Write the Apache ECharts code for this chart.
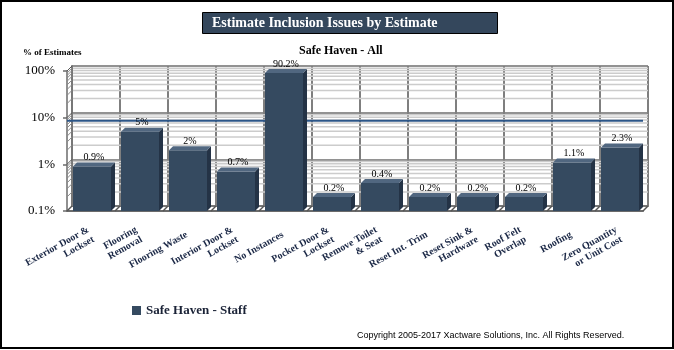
<!DOCTYPE html>
<html>
<head>
<meta charset="utf-8">
<script src="https://cdn.jsdelivr.net/npm/echarts@6/dist/echarts.min.js"></script>
<style>
  html, body { margin: 0; padding: 0; background: #fff; }
  #chart { width: 674px; height: 350px; }
</style>
</head>
<body>
<div id="chart"></div>
<script>
// Share of estimates per inclusion issue (log scale, percent)
const categories = [
  'Exterior Door &\nLockset', 'Flooring\nRemoval', 'Flooring Waste',
  'Interior Door &\nLockset', 'No Instances', 'Pocket Door &\nLockset',
  'Remove Toilet\n& Seat', 'Reset Int. Trim', 'Reset Sink &\nHardware',
  'Roof Felt\nOverlap', 'Roofing', 'Zero Quantity\nor Unit Cost'
];
const values = [0.9, 5, 2, 0.7, 90.2, 0.2, 0.4, 0.2, 0.2, 0.2, 1.1, 2.3];
const seriesName = 'Safe Haven - Staff';
const averageValue = 8.6;

// Axis ticks
const majorGridValues = [0.1, 1, 10, 100];
const yTickLabels = ['0.1%', '1%', '10%', '100%'];
const minorGridValues = [
  0.2, 0.3, 0.4, 0.5, 0.6, 0.7, 0.8, 0.9,
  2, 3, 4, 5, 6, 7, 8, 9,
  20, 30, 40, 50, 60, 70, 80, 90
];

const FRONT = '#354a60';
const SIDE = '#243346';
const TOP = '#516780';
const DEPTH = 5;
const SERIF = '"Liberation Serif", "Times New Roman", serif';

const chart = echarts.init(document.getElementById('chart'));

function yLabel(v) {
  const i = majorGridValues.findIndex(m => Math.abs(Math.log10(m) - Math.log10(v)) < 1e-6);
  return i >= 0 ? yTickLabels[i] : '';
}

chart.setOption({
  animation: false,
  title: [
    {
      text: 'Estimate Inclusion Issues by Estimate',
      left: 202, top: 12,
      padding: [3, 60, 3, 10],
      backgroundColor: '#34475c',
      borderColor: '#000', borderWidth: 1,
      textStyle: { color: '#fff', fontFamily: SERIF, fontWeight: 'bold', fontSize: 14, lineHeight: 16 }
    },
    {
      text: 'Safe Haven - All',
      left: 299, top: 45, padding: 0,
      textStyle: { color: '#000', fontFamily: SERIF, fontWeight: 'bold', fontSize: 12 }
    },
    {
      text: '% of Estimates',
      left: 23, top: 48, padding: 0,
      textStyle: { color: '#000', fontFamily: SERIF, fontWeight: 'bold', fontSize: 9 }
    },
    {
      text: 'Copyright 2005-2017 Xactware Solutions, Inc. All Rights Reserved.',
      left: 357, top: 331, padding: 0,
      textStyle: { color: '#000', fontFamily: '"Liberation Sans", Arial, sans-serif', fontWeight: 'normal', fontSize: 9 }
    }
  ],
  legend: {
    data: [{ name: seriesName, icon: 'rect', itemStyle: { color: FRONT } }],
    left: 127, top: 299,
    itemWidth: 9, itemHeight: 9,
    textStyle: { color: '#1a2236', fontFamily: SERIF, fontWeight: 'bold', fontSize: 13 }
  },
  graphic: [{
    type: 'rect', z: 100, silent: true,
    shape: { x: 1, y: 1, width: 672, height: 347 },
    style: { fill: 'none', stroke: '#000', lineWidth: 2 }
  }],
  grid: [
    { left: 67, top: 71, width: 576, height: 140 },                 // front plane
    { left: 67 + DEPTH, top: 71 - DEPTH, width: 576, height: 140 }  // back wall
  ],
  xAxis: [
    {
      type: 'category', gridIndex: 0, data: categories,
      axisLine: { lineStyle: { color: '#6b6b6b', width: 2 } },
      axisTick: { alignWithLabel: true, length: 8, lineStyle: { color: '#8a8a8a', width: 2 } },
      axisLabel: {
        interval: 0, rotate: 29, margin: 23,
        color: '#1b2846', fontFamily: SERIF, fontWeight: 'bold', fontSize: 10, lineHeight: 11
      },
      splitLine: { show: false }
    },
    {
      type: 'category', gridIndex: 1, data: categories,
      axisLine: { lineStyle: { color: '#777', width: 2 } },
      axisTick: { show: false }, axisLabel: { show: false },
      splitLine: { show: true, interval: 0, lineStyle: { color: '#7f7f7f', width: 2 } }
    }
  ],
  yAxis: [
    {
      type: 'log', logBase: 10, gridIndex: 0, min: 0.1, max: 100,
      axisLine: { show: true, lineStyle: { color: '#6b6b6b', width: 1.5 } },
      axisTick: { show: true, length: 4, lineStyle: { color: '#6b6b6b', width: 1.5 } },
      axisLabel: { margin: 12, formatter: yLabel, color: '#000', fontFamily: SERIF, fontSize: 13, padding: [7, 0, 0, 0] },
      splitLine: { show: false }
    },
    {
      type: 'log', logBase: 10, gridIndex: 1, min: 0.1, max: 100,
      axisLine: { show: true, lineStyle: { color: '#777', width: 2 } },
      axisTick: { show: false }, axisLabel: { show: false },
      splitLine: { show: true, lineStyle: { color: '#6e6e6e', width: 1.5 } }
    }
  ],
  series: [
    // minor gridlines on the back wall
    {
      type: 'custom', xAxisIndex: 1, yAxisIndex: 1, silent: true, z: 1,
      data: minorGridValues.map(v => [0, v]),
      encode: { x: 0, y: 1 },
      renderItem(params, api) {
        const cs = params.coordSys;
        const y = api.coord([0, api.value(1)])[1];
        return {
          type: 'line',
          shape: { x1: cs.x + 1, y1: y, x2: cs.x + cs.width, y2: y },
          style: { stroke: '#cccccc', lineWidth: 1.5 }
        };
      }
    },
    // left side wall: slanted lines joining the front axis to the back wall
    {
      type: 'custom', xAxisIndex: 0, yAxisIndex: 0, silent: true, z: 2,
      data: majorGridValues.concat(minorGridValues).map(v => [0, v]),
      encode: { x: 0, y: 1 },
      renderItem(params, api) {
        const cs = params.coordSys;
        const v = api.value(1);
        const y = api.coord([0, v])[1];
        const major = majorGridValues.includes(v);
        return {
          type: 'line',
          shape: { x1: cs.x, y1: y, x2: cs.x + DEPTH, y2: y - DEPTH },
          style: { stroke: major ? '#555' : '#8a8a8a', lineWidth: 1 }
        };
      }
    },
    // floor: slanted lines at each category boundary
    {
      type: 'custom', xAxisIndex: 0, yAxisIndex: 0, silent: true, z: 2,
      data: categories.map((c, i) => [i, 0.1]),
      encode: { x: 0, y: 1 },
      renderItem(params, api) {
        const cs = params.coordSys;
        const i = api.value(0);
        const half = cs.width / categories.length / 2;
        const c = api.coord([i, 0.1]);
        const yb = cs.y + cs.height;
        const xs = [c[0] - half];
        if (i === categories.length - 1) xs.push(c[0] + half);
        return {
          type: 'group',
          children: xs.map(xb => ({
            type: 'line',
            shape: { x1: xb, y1: yb, x2: xb + DEPTH, y2: yb - DEPTH },
            style: { stroke: '#555', lineWidth: 1.5 }
          }))
        };
      }
    },
    // average line
    {
      type: 'custom', xAxisIndex: 0, yAxisIndex: 0, silent: true, z: 3,
      data: [[0, averageValue]],
      encode: { x: 0, y: 1 },
      renderItem(params, api) {
        const cs = params.coordSys;
        const y = api.coord([0, api.value(1)])[1];
        return {
          type: 'line',
          shape: { x1: cs.x, y1: y, x2: cs.x + cs.width, y2: y },
          style: { stroke: '#2c5688', lineWidth: 2 }
        };
      }
    },
    // 3D bars
    {
      name: seriesName,
      type: 'custom', xAxisIndex: 0, yAxisIndex: 0, z: 5,
      itemStyle: { color: FRONT },
      data: values.map((v, i) => [i, v]),
      encode: { x: 0, y: 1 },
      renderItem(params, api) {
        const i = api.value(0);
        const v = api.value(1);
        const top = api.coord([i, v]);
        const base = api.coord([i, 0.1]);
        const x0 = top[0] - 18, x1 = top[0] + 20;
        const yT = top[1], yB = base[1], d = 4;
        return {
          type: 'group',
          children: [
            { type: 'rect', shape: { x: x0, y: yT, width: x1 - x0, height: yB - yT }, style: { fill: FRONT } },
            { type: 'polygon', shape: { points: [[x1, yT], [x1 + d, yT - d], [x1 + d, yB - d], [x1, yB]] }, style: { fill: SIDE } },
            { type: 'polygon', shape: { points: [[x0, yT], [x0 + d, yT - d], [x1 + d, yT - d], [x1, yT]] }, style: { fill: TOP } },
            {
              type: 'text',
              style: {
                text: v + '%', x: (x0 + x1 + d) / 2, y: yT - d,
                align: 'center', verticalAlign: 'bottom',
                font: '10px ' + SERIF, fill: '#000'
              }
            }
          ]
        };
      }
    }
  ]
});
</script>
</body>
</html>
